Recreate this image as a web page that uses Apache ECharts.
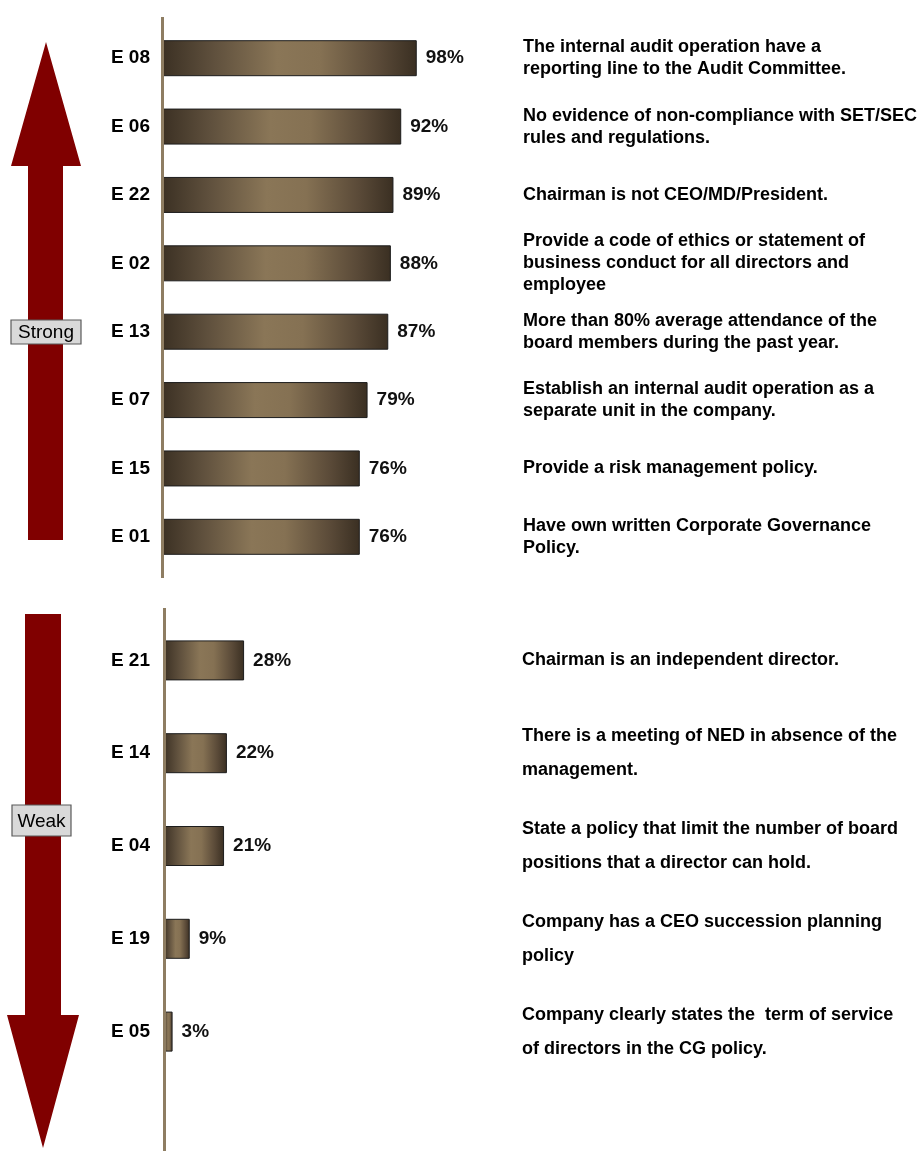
<!DOCTYPE html>
<html>
<head>
<meta charset="utf-8">
<script src="https://cdn.jsdelivr.net/npm/echarts@6/dist/echarts.min.js"></script>
<style>
  html, body { margin: 0; padding: 0; background: #ffffff; }
  #chart { width: 920px; height: 1151px; }
</style>
</head>
<body>
<div id="chart"></div>
<script>
// Strongest practices (top block)
const strongCodes = ['E 08', 'E 06', 'E 22', 'E 02', 'E 13', 'E 07', 'E 15', 'E 01'];
const strongValues = [98, 92, 89, 88, 87, 79, 76, 76];
const strongText = [
  'The internal audit operation have a\nreporting line to the Audit Committee.',
  'No evidence of non-compliance with SET/SEC\nrules and regulations.',
  'Chairman is not CEO/MD/President.',
  'Provide a code of ethics or statement of\nbusiness conduct for all directors and\nemployee',
  'More than 80% average attendance of the\nboard members during the past year.',
  'Establish an internal audit operation as a\nseparate unit in the company.',
  'Provide a risk management policy.',
  'Have own written Corporate Governance\nPolicy.'
];

// Weakest practices (bottom block)
const weakCodes = ['E 21', 'E 14', 'E 04', 'E 19', 'E 05'];
const weakValues = [28, 22, 21, 9, 3];
const weakText = [
  'Chairman is an independent director.',
  'There is a meeting of NED in absence of the\nmanagement.',
  'State a policy that limit the number of board\npositions that a director can hold.',
  'Company has a CEO succession planning\npolicy',
  'Company clearly states the  term of service\nof directors in the CG policy.'
];

const FONT = "'Liberation Sans', Arial, sans-serif";
const DARK_RED = '#800000';
const AXIS_TAN = '#8e7d62';

const chart = echarts.init(document.getElementById('chart'), null, { renderer: 'canvas' });

function barFill() {
  return new echarts.graphic.LinearGradient(0, 0, 1, 0, [
    { offset: 0, color: '#3c3124' },
    { offset: 0.2, color: '#5f503d' },
    { offset: 0.45, color: '#8a7657' },
    { offset: 0.62, color: '#857153' },
    { offset: 0.85, color: '#5a4a38' },
    { offset: 1, color: '#3a2f22' }
  ]);
}

function codeAxis(gridIndex, data, margin) {
  return {
    type: 'category', gridIndex, data, inverse: true,
    axisLine: { show: false }, axisTick: { show: false },
    axisLabel: { margin, color: '#000', fontFamily: FONT, fontWeight: 'bold', fontSize: 19 }
  };
}

function textAxis(gridIndex, data, margin, lineHeight) {
  return {
    type: 'category', gridIndex, data, inverse: true, position: 'right',
    axisLine: { show: false }, axisTick: { show: false },
    axisLabel: {
      margin, align: 'left', color: '#000', fontFamily: FONT,
      fontWeight: 'bold', fontSize: 18, lineHeight
    }
  };
}

function barSeries(axisIdx, values, width) {
  return {
    type: 'bar', xAxisIndex: axisIdx, yAxisIndex: axisIdx * 2,
    data: values, barWidth: width, silent: true,
    itemStyle: { color: barFill(), borderColor: '#1c1c1c', borderWidth: 1 },
    label: {
      show: true, position: 'right', distance: 9, formatter: '{c}%',
      color: '#111', fontFamily: FONT, fontWeight: 'bold', fontSize: 19
    }
  };
}

// Decorative arrows, level tags and vertical baselines
function levelTag(x, y, w, h, text) {
  return {
    type: 'group', children: [
      { type: 'rect', shape: { x, y, width: w, height: h },
        style: { fill: '#d9d9d9', stroke: '#5a5a5a', lineWidth: 1.2 } },
      { type: 'text', x: x + w / 2, y: y + h / 2 + 1,
        style: { text, fill: '#000', font: '19px ' + FONT, align: 'center', verticalAlign: 'middle' } }
    ]
  };
}

const option = {
  backgroundColor: '#ffffff',
  animation: false,
  grid: [
    { left: 163, top: 24, width: 260, height: 547 },
    { left: 164, top: 614, width: 286, height: 464 }
  ],
  xAxis: [
    { type: 'value', gridIndex: 0, min: 0, max: 100, show: false },
    { type: 'value', gridIndex: 1, min: 0, max: 100, show: false }
  ],
  yAxis: [
    codeAxis(0, strongCodes, 13),
    textAxis(0, strongText, 101, 22),
    codeAxis(1, weakCodes, 14),
    textAxis(1, weakText, 72, 34)
  ],
  series: [
    barSeries(0, strongValues, 36),
    barSeries(1, weakValues, 40)
  ],
  graphic: [
    { type: 'line', shape: { x1: 162.5, y1: 17, x2: 162.5, y2: 578 },
      style: { stroke: AXIS_TAN, lineWidth: 3 }, z: 10 },
    { type: 'line', shape: { x1: 164.5, y1: 608, x2: 164.5, y2: 1151 },
      style: { stroke: AXIS_TAN, lineWidth: 3 }, z: 10 },
    { type: 'polygon',
      shape: { points: [[46, 42], [81, 166], [63, 166], [63, 540], [28, 540], [28, 166], [11, 166]] },
      style: { fill: DARK_RED } },
    { type: 'polygon',
      shape: { points: [[25, 614], [61, 614], [61, 1015], [79, 1015], [43, 1148], [7, 1015], [25, 1015]] },
      style: { fill: DARK_RED } },
    levelTag(11, 320, 70, 24, 'Strong'),
    levelTag(12, 805, 59, 31, 'Weak')
  ]
};

chart.setOption(option);
</script>
</body>
</html>
